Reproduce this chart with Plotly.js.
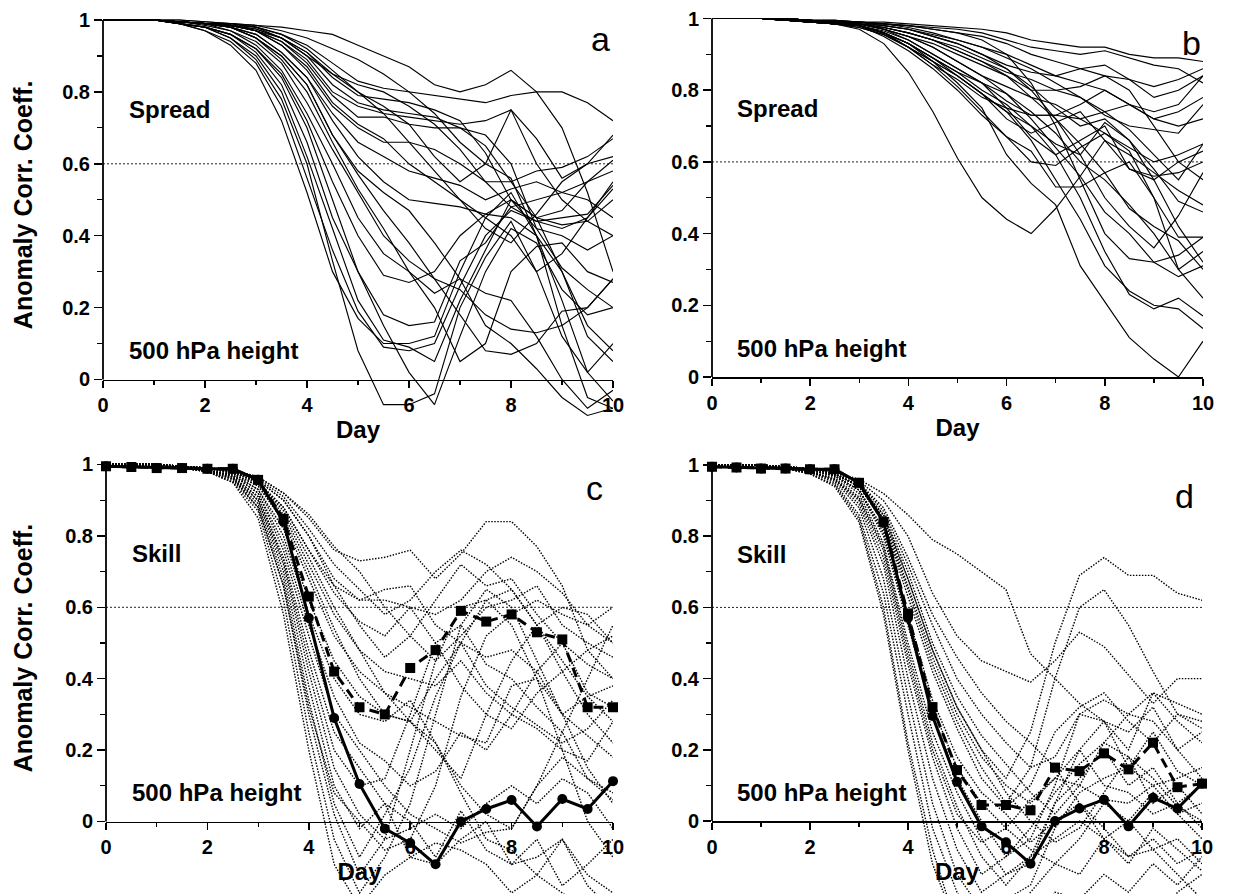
<!DOCTYPE html>
<html>
<head>
<meta charset="utf-8">
<script src="https://cdn.plot.ly/plotly-3.0.1.min.js"></script>
<style>html,body{margin:0;padding:0;background:#fff;}#chart{width:1247px;height:894px;}</style>
</head>
<body>
<div id="chart"></div>
<script>
// ---------------- DATA ----------------
const days = [0,0.5,1,1.5,2,2.5,3,3.5,4,4.5,5,5.5,6,6.5,7,7.5,8,8.5,9,9.5,10];
const xTickVals = [0,2,4,6,8,10];
const xTickText = ['0','2','4','6','8','10'];
const yTickVals = [0,0.2,0.4,0.6,0.8,1];
const yTickText = ['0','0.2','0.4','0.6','0.8','1'];
const refLevel = 0.6;

// panel a: spread, 500 hPa height (ensemble members)
const spreadA = [
 [1,1,1,.99,.97,.93,.86,.72,.52,.30,.17,.10,.10,.12,.30,.45,.52,.40,.22,.02,-.06],
 [1,1,1,.99,.97,.94,.88,.76,.56,.36,.19,.09,.08,.10,.26,.40,.47,.44,.42,.45,.55],
 [1,1,1,.99,.98,.95,.90,.80,.62,.42,.22,.11,.09,.05,.22,.36,.50,.45,.43,.44,.50],
 [1,1,1,.99,.98,.95,.89,.78,.60,.33,.08,-.07,-.07,-.04,.20,.34,.44,.30,.12,.02,.10],
 [1,1,1,.99,.98,.96,.91,.82,.66,.45,.30,.15,.02,-.07,.12,.30,.42,.38,.25,.18,.20],
 [1,1,1,.99,.98,.96,.92,.84,.70,.50,.30,.18,.15,.16,.33,.38,.48,.44,.45,.46,.54],
 [1,1,1,.99,.98,.96,.92,.85,.72,.55,.40,.29,.27,.30,.40,.46,.50,.42,.40,.36,.40],
 [1,1,1,.995,.985,.97,.93,.86,.74,.60,.45,.35,.30,.20,.05,.10,.30,.37,.38,.30,.27],
 [1,1,1,.995,.99,.97,.94,.88,.77,.64,.52,.40,.33,.28,.25,.18,.14,.13,.15,.20,.28],
 [1,1,1,.995,.99,.98,.95,.89,.80,.66,.53,.42,.30,.24,.28,.24,.22,.12,.00,-.08,-.03],
 [1,1,1,.995,.99,.98,.95,.90,.82,.68,.57,.47,.38,.28,.18,.08,.07,.10,.19,.20,.28],
 [1,1,1,.995,.99,.98,.95,.90,.82,.68,.58,.52,.47,.38,.28,.15,.10,.03,-.05,-.10,-.08],
 [1,1,1,.995,.99,.98,.96,.91,.84,.72,.62,.55,.50,.49,.48,.46,.45,.40,.30,.12,.05],
 [1,1,1,.995,.99,.98,.96,.91,.84,.74,.66,.62,.58,.56,.54,.50,.53,.55,.52,.50,.45],
 [1,1,1,.995,.99,.985,.97,.93,.86,.76,.70,.66,.66,.64,.60,.55,.48,.50,.52,.55,.61],
 [1,1,1,.995,.99,.985,.97,.93,.87,.77,.71,.67,.60,.55,.50,.45,.40,.30,.35,.45,.53],
 [1,1,1,.995,.99,.985,.97,.94,.88,.79,.73,.73,.71,.70,.70,.68,.60,.42,.31,.25,.20],
 [1,1,1,.995,.99,.985,.97,.94,.89,.80,.76,.74,.73,.72,.71,.72,.75,.60,.50,.44,.40],
 [1,1,1,.995,.99,.985,.97,.95,.90,.82,.77,.75,.74,.73,.70,.65,.55,.45,.30,.15,.08],
 [1,1,1,.995,.99,.99,.98,.95,.91,.84,.79,.78,.77,.75,.72,.63,.50,.45,.47,.55,.58],
 [1,1,1,.995,.99,.99,.98,.96,.92,.86,.80,.74,.66,.58,.50,.42,.38,.46,.55,.60,.62],
 [1,1,1,1,.995,.99,.985,.98,.97,.96,.93,.90,.87,.82,.80,.82,.86,.80,.70,.52,.30],
 [1,1,1,1,.995,.99,.985,.97,.95,.92,.89,.85,.80,.74,.66,.60,.56,.40,.15,-.05,-.08],
 [1,1,1,.995,.99,.985,.98,.96,.93,.88,.83,.81,.80,.79,.78,.77,.79,.80,.80,.77,.72],
 [1,1,1,.995,.99,.985,.975,.95,.91,.85,.80,.76,.71,.62,.55,.60,.75,.67,.56,.60,.68],
 [1,1,1,.995,.99,.985,.975,.95,.90,.85,.82,.80,.76,.71,.64,.55,.55,.58,.59,.62,.67]
];

// panel b: spread (second set)
const spreadB = [
 [1,1,1,.995,.99,.985,.97,.93,.85,.74,.61,.50,.44,.40,.47,.56,.66,.62,.57,.52,.48],
 [1,1,1,.995,.99,.985,.98,.96,.93,.88,.82,.75,.62,.54,.48,.31,.21,.11,.05,.00,.10],
 [1,1,1,.995,.99,.985,.98,.96,.93,.89,.85,.80,.76,.70,.62,.50,.35,.23,.19,.22,.17],
 [1,1,1,.995,.99,.985,.98,.96,.92,.88,.84,.79,.74,.66,.55,.44,.31,.24,.20,.19,.135],
 [1,1,1,.995,.99,.99,.985,.97,.95,.92,.88,.84,.79,.72,.64,.56,.46,.40,.32,.28,.31],
 [1,1,1,.995,.99,.985,.98,.95,.91,.86,.80,.73,.67,.60,.59,.64,.68,.63,.50,.30,.35],
 [1,1,1,.995,.99,.985,.98,.96,.92,.87,.81,.74,.67,.63,.53,.53,.57,.60,.50,.39,.39],
 [1,1,1,.995,.99,.99,.985,.97,.94,.90,.86,.82,.75,.67,.62,.66,.70,.58,.55,.60,.63],
 [1,1,1,.995,.99,.99,.985,.97,.95,.93,.90,.87,.84,.78,.72,.65,.57,.47,.42,.38,.30],
 [1,1,1,1,.995,.99,.99,.98,.97,.95,.93,.90,.86,.80,.72,.62,.50,.42,.36,.45,.57],
 [1,1,1,.995,.99,.985,.98,.96,.93,.89,.84,.79,.74,.70,.65,.62,.71,.66,.58,.49,.46],
 [1,1,1,.995,.99,.99,.985,.97,.95,.92,.88,.84,.81,.78,.76,.72,.68,.64,.60,.62,.65],
 [1,1,1,1,.995,.99,.99,.985,.975,.96,.94,.92,.90,.87,.84,.82,.80,.76,.72,.70,.72],
 [1,1,1,1,.995,.99,.99,.985,.98,.97,.96,.95,.93,.90,.88,.86,.84,.80,.70,.60,.55],
 [1,1,1,1,.995,.995,.99,.985,.98,.975,.97,.96,.94,.92,.91,.90,.91,.89,.87,.86,.82],
 [1,1,1,1,.995,.995,.99,.99,.985,.98,.975,.97,.96,.94,.93,.92,.92,.90,.89,.89,.88],
 [1,1,1,1,.995,.99,.99,.98,.97,.95,.93,.90,.87,.85,.84,.86,.87,.83,.78,.80,.84],
 [1,1,1,1,.995,.99,.985,.975,.96,.94,.91,.88,.84,.80,.80,.81,.84,.83,.81,.83,.86],
 [1,1,1,.995,.99,.985,.98,.96,.93,.89,.85,.82,.77,.73,.73,.76,.80,.76,.72,.74,.78],
 [1,1,1,.995,.99,.985,.98,.965,.94,.90,.86,.82,.79,.74,.68,.60,.55,.48,.40,.30,.22],
 [1,1,1,1,.995,.99,.985,.975,.96,.94,.92,.89,.86,.81,.75,.70,.72,.66,.55,.42,.32],
 [1,1,1,.995,.99,.985,.975,.955,.92,.88,.84,.79,.72,.68,.71,.74,.66,.58,.56,.57,.60],
 [1,1,1,1,.995,.99,.985,.98,.97,.955,.94,.92,.89,.86,.82,.78,.74,.69,.62,.55,.65],
 [1,1,1,.995,.99,.985,.975,.955,.92,.87,.83,.78,.75,.73,.73,.72,.74,.76,.74,.76,.84],
 [1,1,1,1,.995,.99,.985,.975,.96,.94,.91,.88,.85,.83,.80,.78,.73,.70,.69,.68,.76],
 [1,1,1,1,.995,.995,.99,.985,.98,.97,.96,.94,.90,.82,.70,.55,.40,.33,.32,.34,.39]
];

// panel c: skill of members (dotted) and two summary curves
const skillC = [
 [1,1,1,.99,.98,.95,.85,.58,.20,-.12,-.24,-.15,-.10,-.12,-.05,.00,-.12,-.05,-.18,-.12,-.05],
 [1,1,1,.99,.98,.95,.87,.62,.25,-.05,-.20,-.10,.05,.30,.55,.65,.60,.45,.30,.15,.05],
 [1,1,1,.99,.98,.96,.88,.66,.30,.02,-.15,-.05,.20,.45,.60,.62,.55,.40,.20,.00,-.10],
 [1,1,1,.99,.98,.96,.89,.68,.34,.05,-.10,.02,.15,.35,.50,.62,.65,.55,.45,.35,.28],
 [1,1,1,.99,.985,.96,.90,.70,.38,.10,-.02,.05,.00,-.10,.03,-.08,-.12,-.10,-.05,-.15,-.20],
 [1,1,1,.99,.985,.965,.91,.73,.45,.20,.10,.12,.30,.50,.55,.44,.40,.32,.25,.12,.06],
 [1,1,1,.99,.985,.965,.91,.74,.48,.25,.15,.05,-.10,-.06,-.08,-.12,-.20,-.15,-.20,-.25,-.30],
 [1,1,1,.99,.985,.97,.92,.78,.55,.35,.22,.17,.10,.14,.25,.20,.30,.26,.20,.17,.28],
 [1,1,1,.995,.99,.975,.93,.82,.62,.45,.35,.30,.28,.40,.50,.38,.32,.27,.22,.26,.34],
 [1,1,1,.995,.99,.975,.94,.84,.68,.52,.42,.36,.32,.28,.24,.22,.38,.40,.30,.35,.38],
 [1,1,1,.995,.99,.98,.945,.86,.72,.58,.48,.42,.40,.38,.45,.36,.30,.42,.50,.44,.40],
 [1,1,1,.995,.99,.98,.95,.88,.76,.64,.56,.52,.60,.50,.38,.30,.26,.36,.42,.48,.52],
 [1,1,1,.995,.99,.98,.955,.90,.80,.68,.62,.65,.66,.55,.50,.46,.48,.42,.30,.24,.18],
 [1,1,1,.995,.99,.985,.96,.91,.82,.72,.65,.58,.62,.70,.76,.72,.65,.55,.42,.30,.22],
 [1,1,1,.995,.99,.985,.965,.92,.85,.76,.73,.74,.76,.68,.75,.84,.84,.77,.66,.48,.40],
 [1,1,1,.995,.99,.985,.965,.92,.86,.77,.70,.60,.52,.45,.52,.60,.62,.66,.55,.50,.46],
 [1,1,1,.995,.99,.98,.955,.90,.80,.66,.55,.46,.52,.62,.72,.66,.68,.58,.50,.36,.32],
 [1,1,1,.995,.99,.98,.95,.87,.74,.60,.48,.36,.28,.20,.12,.30,.45,.55,.60,.58,.50],
 [1,1,1,.995,.99,.975,.94,.85,.70,.54,.40,.30,.28,.22,.10,.02,-.02,.10,.18,.12,.08],
 [1,1,1,.99,.985,.97,.93,.80,.58,.40,.30,.28,.34,.22,.08,-.05,-.08,-.15,-.05,-.18,-.25],
 [1,1,1,.99,.985,.97,.92,.76,.52,.30,.20,.10,.02,-.02,-.06,-.03,-.02,.10,.25,.40,.55],
 [1,1,1,.995,.99,.98,.95,.88,.76,.66,.62,.62,.60,.58,.62,.70,.74,.70,.64,.55,.60],
 [1,1,1,.99,.98,.955,.88,.66,.32,.08,.00,-.08,-.05,.10,.35,.52,.58,.62,.58,.55,.50],
 [1,1,1,.99,.985,.965,.90,.72,.42,.15,.02,-.05,-.02,.02,-.02,.05,.10,.05,.12,.08,-.02]
];
const skillCSolid  = [.995,.993,.99,.99,.988,.988,.957,.84,.57,.29,.105,-.02,-.06,-.12,.00,.035,.06,-.014,.063,.035,.113];
const skillCDashed = [.995,.993,.99,.99,.988,.988,.957,.848,.63,.42,.32,.30,.43,.48,.59,.56,.58,.53,.51,.32,.32];

// panel d
const skillD = [
 [1,1,1,.995,.99,.98,.96,.92,.86,.79,.75,.70,.65,.47,.40,.33,.28,.15,.10,.12,.15],
 [1,1,1,.995,.99,.98,.955,.90,.80,.64,.52,.45,.42,.39,.45,.53,.49,.41,.33,.40,.40],
 [1,1,1,.995,.99,.975,.94,.85,.68,.48,.32,.20,.12,.25,.50,.69,.74,.69,.69,.64,.62],
 [1,1,1,.995,.99,.975,.94,.84,.65,.44,.28,.15,.05,.15,.40,.60,.65,.55,.42,.30,.28],
 [1,1,1,.99,.985,.97,.93,.80,.55,.30,.12,.00,-.10,-.05,.10,.30,.34,.30,.36,.33,.30],
 [1,1,1,.99,.985,.97,.92,.78,.50,.25,.08,-.05,-.15,-.12,.05,.20,.28,.25,.32,.20,.25],
 [1,1,1,.99,.98,.96,.90,.74,.44,.18,-.02,-.15,-.10,-.02,.08,.16,.22,.18,.05,.10,.02],
 [1,1,1,.99,.98,.96,.89,.72,.40,.12,-.08,-.20,-.15,-.10,.05,.12,.20,.10,.15,.05,-.02],
 [1,1,1,.99,.98,.955,.88,.68,.35,.05,-.15,-.25,-.22,-.18,-.02,.08,.12,.15,.25,.14,.10],
 [1,1,1,.99,.98,.95,.86,.64,.30,-.02,-.20,-.30,-.30,-.20,-.12,-.15,-.05,-.10,-.08,-.05,-.12],
 [1,1,1,.99,.975,.945,.85,.60,.22,-.08,-.30,-.30,-.30,-.30,-.20,-.22,-.15,-.20,-.12,-.18,-.10],
 [1,1,1,.99,.975,.94,.84,.58,.20,-.12,-.30,-.30,-.30,-.30,-.30,-.30,-.25,-.30,-.30,-.20,-.15],
 [1,1,1,.99,.985,.97,.93,.82,.58,.34,.18,.08,.02,-.06,.00,.05,-.02,-.10,-.05,-.12,-.08],
 [1,1,1,.995,.99,.975,.94,.85,.66,.46,.30,.18,.10,.05,.12,.20,.10,.08,.02,.05,.10],
 [1,1,1,.995,.99,.975,.94,.86,.70,.50,.35,.24,.16,.08,.02,.10,.22,.30,.28,.20,.12],
 [1,1,1,.995,.99,.98,.95,.87,.72,.55,.40,.30,.22,.15,.18,.30,.28,.20,.36,.28,.22],
 [1,1,1,.995,.99,.98,.95,.88,.74,.58,.46,.36,.28,.22,.15,.05,-.05,.00,-.08,-.15,-.22],
 [1,1,1,.995,.99,.975,.945,.86,.68,.48,.32,.20,.08,.00,-.06,-.02,.08,.18,.12,.04,.00],
 [1,1,1,.99,.985,.97,.93,.81,.56,.32,.15,.05,-.02,-.08,-.12,-.05,.05,.00,.08,.02,-.05],
 [1,1,1,.99,.98,.965,.91,.77,.48,.22,.04,-.10,-.18,-.10,-.05,.00,-.05,-.12,-.02,-.08,-.14],
 [1,1,1,.99,.98,.96,.905,.76,.46,.20,.02,-.06,-.02,.06,.12,.10,.06,.05,.10,.02,.05],
 [1,1,1,.995,.99,.975,.94,.84,.63,.42,.26,.12,.04,.10,.25,.32,.36,.28,.22,.30,.26]
];
const skillDSolid  = [.995,.993,.99,.99,.988,.988,.95,.84,.57,.295,.11,-.015,-.06,-.12,.00,.035,.06,-.015,.065,.035,.105];
const skillDDashed = [.995,.993,.99,.99,.988,.988,.95,.84,.583,.32,.143,.045,.045,.03,.15,.14,.19,.145,.22,.095,.105];

// ---------------- LAYOUT HELPERS ----------------
const W = 1247, H = 894, HI = 1.015;
const FONT = 'Liberation Sans, Arial, Helvetica, sans-serif';
const panels = [
  {id:'',  x0:103, x10:613,  p1:20,    p0:379.5, lo:-0.13, tag:'Spread', letter:'a', ly:0.947, lx:9.76, ytitle:true},
  {id:'2', x0:712, x10:1203, p1:18.5,  p0:377,   lo:-0.13, tag:'Spread', letter:'b', ly:0.932, lx:9.76, ytitle:false},
  {id:'3', x0:106, x10:613,  p1:464.5, p0:821.5, lo:null,  tag:'Skill',  letter:'c', ly:0.934, lx:9.64, ytitle:true},
  {id:'4', x0:712, x10:1202, p1:465,   p0:821,   lo:null,  tag:'Skill',  letter:'d', ly:0.914, lx:9.64, ytitle:false}
];
const memberSets = [spreadA, spreadB, skillC, skillD];

const traces = [];
const layout = {
  width: W, height: H, margin:{l:0,r:0,t:0,b:0},
  paper_bgcolor:'#ffffff', plot_bgcolor:'rgba(0,0,0,0)',
  showlegend:false, shapes:[], annotations:[],
  font:{family:FONT, color:'#000'}
};

panels.forEach((p, i) => {
  const unit = p.p0 - p.p1;
  const lo = (p.lo !== null) ? p.lo : -(H - p.p0) / unit;
  const topPx = p.p1 - (HI - 1) * unit;
  const botPx = p.p0 - lo * unit;
  const xa = 'x' + p.id, ya = 'y' + p.id;
  const dom = [Math.max(0, 1 - botPx / H), Math.min(1, 1 - topPx / H)];

  layout['xaxis' + p.id] = {
    domain:[p.x0 / W, p.x10 / W], range:[0, 10], anchor:'free', position: 1 - p.p0 / H,
    showline:true, linewidth:1.8, linecolor:'#000', zeroline:false, showgrid:false,
    ticks:'outside', ticklen:7, tickwidth:1.5, tickcolor:'#000',
    tickmode:'array', tickvals:xTickVals, ticktext:xTickText,
    minor:{tickmode:'array', tickvals:[1,3,5,7,9], ticks:'outside', ticklen:4, tickwidth:1.2, tickcolor:'#000'},
    tickfont:{family:FONT, size:20, weight:'bold', color:'#000'},
    title:{text:'Day', font:{family:FONT, size:24, weight:'bold', color:'#000'}, standoff:6},
    fixedrange:true
  };
  layout['yaxis' + p.id] = {
    domain:dom, range:[lo, HI], anchor:xa,
    showline:false, zeroline:false, showgrid:false,
    ticks:'outside', ticklen:8, tickwidth:1.5, tickcolor:'#000',
    tickmode:'array', tickvals:yTickVals, ticktext:yTickText,
    minor:{tickmode:'array', tickvals:[0.1,0.3,0.5,0.7,0.9], ticks:'outside', ticklen:5, tickwidth:1.2, tickcolor:'#000'},
    tickfont:{family:FONT, size:20, weight:'bold', color:'#000'},
    fixedrange:true
  };

  // y axis line only from 0 to 1
  layout.shapes.push({type:'line', xref:'paper', yref:'paper',
    x0:p.x0 / W, x1:p.x0 / W, y0:1 - p.p0 / H, y1:1 - p.p1 / H,
    line:{color:'#000', width:1.8}});
  // reference level
  layout.shapes.push({type:'line', xref:xa, yref:ya, x0:0, x1:10, y0:refLevel, y1:refLevel,
    line:{color:'#222', width:1, dash:'2px,2px'}, layer:'below'});

  if (p.ytitle) {
    layout.annotations.push({xref:'paper', yref:ya, x:23 / W, y:0.485, xanchor:'center', yanchor:'middle',
      textangle:-90, showarrow:false, text:'Anomaly Corr. Coeff.',
      font:{family:FONT, size:25, weight:'bold', color:'#000'}});
  }
  layout.annotations.push(
    {xref:xa, yref:ya, x:0.47, y:0.75, xanchor:'left', yanchor:'middle', showarrow:false,
     text:p.tag, font:{family:FONT, size:24, weight:'bold', color:'#000'}},
    {xref:xa, yref:ya, x:0.47, y:0.08, xanchor:'left', yanchor:'middle', showarrow:false,
     text:'500 hPa height', font:{family:FONT, size:24, weight:'bold', color:'#000'}},
    {xref:xa, yref:ya, x:p.lx, y:p.ly, xanchor:'center', yanchor:'middle', showarrow:false,
     text:p.letter, font:{family:FONT, size:34, color:'#000'}}
  );

  const dotted = i >= 2;
  memberSets[i].forEach(vals => {
    traces.push({x:days, y:vals, xaxis:xa, yaxis:ya, type:'scatter', mode:'lines',
      line:{color:'#000', width: dotted ? 1.4 : 1.15, dash: dotted ? '1.5px,1.5px' : 'solid'},
      hoverinfo:'skip'});
  });
});

// summary curves (circles solid under, squares dashed on top)
[[skillCSolid, skillCDashed, 'x3', 'y3'], [skillDSolid, skillDDashed, 'x4', 'y4']].forEach(([s, d, xa, ya]) => {
  traces.push({x:days, y:s, xaxis:xa, yaxis:ya, type:'scatter', mode:'lines+markers', cliponaxis:false,
    line:{color:'#000', width:3}, marker:{symbol:'circle', size:10, color:'#000'}, hoverinfo:'skip'});
  traces.push({x:days, y:d, xaxis:xa, yaxis:ya, type:'scatter', mode:'lines+markers', cliponaxis:false,
    line:{color:'#000', width:3, dash:'10px,6px'}, marker:{symbol:'square', size:10, color:'#000'}, hoverinfo:'skip'});
});

Plotly.newPlot('chart', traces, layout, {staticPlot:true, displayModeBar:false});
</script>
</body>
</html>
